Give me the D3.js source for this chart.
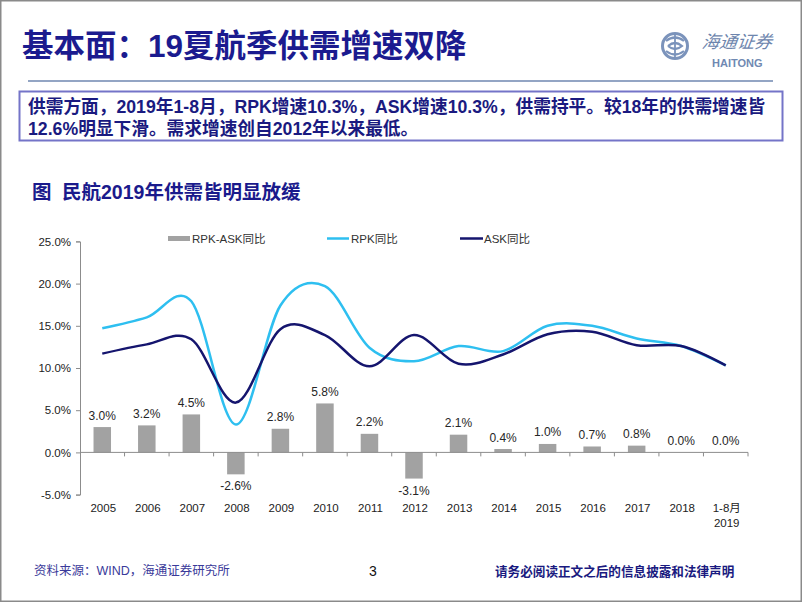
<!DOCTYPE html>
<html><head><meta charset="utf-8">
<script src="https://cdn.jsdelivr.net/npm/d3@7/dist/d3.min.js"></script>
<style>
html,body{margin:0;padding:0;background:#fff;}
svg{display:block;font-family:"Liberation Sans","Noto Sans CJK SC",sans-serif;}
</style></head>
<body>
<svg id="c" width="802" height="602"></svg>
<script>
const categories = ["2005","2006","2007","2008","2009","2010","2011","2012","2013","2014","2015","2016","2017","2018","1-8月|2019"];
const rpkYoY  = [14.7, 16.0, 17.9, 3.3, 17.4, 19.7, 12.4, 10.8, 12.6, 12.0, 15.0, 15.0, 13.5, 12.6, 10.3];
const askYoY  = [11.7, 12.8, 13.4, 5.9, 14.6, 13.9, 10.2, 13.9, 10.5, 11.6, 14.0, 14.3, 12.7, 12.6, 10.3];
const diffYoY = [3.0, 3.2, 4.5, -2.6, 2.8, 5.8, 2.2, -3.1, 2.1, 0.4, 1.0, 0.7, 0.8, 0.0, 0.0];
const yTicks = [-5, 0, 5, 10, 15, 20, 25];
const seriesNames = ["RPK-ASK同比", "RPK同比", "ASK同比"];

const svg = d3.select("#c");
const NAVY = "#1b1b8f";

// page border
svg.append("rect").attr("x",0.75).attr("y",0.75).attr("width",800.5).attr("height",600.5)
  .attr("fill","none").attr("stroke","#8a8a8a").attr("stroke-width",1.5);

// title
svg.append("text").attr("x",22).attr("y",57).attr("font-size",31.5).attr("font-weight","bold")
  .attr("fill",NAVY).text("基本面：19夏航季供需增速双降");
svg.append("line").attr("x1",28).attr("x2",773).attr("y1",81).attr("y2",81)
  .attr("stroke","#6f87b0").attr("stroke-width",1.5);

// logo
const logo = svg.append("g");
logo.append("circle").attr("cx",675).attr("cy",46).attr("r",12.5).attr("fill","none")
  .attr("stroke","#7b93bb").attr("stroke-width",3);
logo.append("path").attr("d","M666,41 q9,-7 18,0 M666,51 q9,7 18,0 M668,46 q7,-6 14,0 q-7,6 -14,0")
  .attr("fill","none").attr("stroke","#7b93bb").attr("stroke-width",2.2);
logo.append("line").attr("x1",675).attr("x2",675).attr("y1",34).attr("y2",58).attr("stroke","#7b93bb").attr("stroke-width",1.8);
logo.append("text").attr("x",702).attr("y",48).attr("font-size",17.5).attr("fill","#6d85ad")
  .attr("font-style","italic").attr("transform","skewX(-8) translate(6,0)").text("海通证券");
logo.append("text").attr("x",712).attr("y",67).attr("font-size",11).attr("font-weight","bold")
  .attr("fill","#7089b2").text("HAITONG");

// text box
svg.append("rect").attr("x",19.5).attr("y",91.5).attr("width",763).attr("height",49)
  .attr("fill","#fff").attr("stroke","#7474c8").attr("stroke-width",2);
svg.append("text").attr("x",28).attr("y",113).attr("font-size",17.7).attr("font-weight","bold")
  .attr("fill","#1a1a80").text("供需方面，2019年1-8月，RPK增速10.3%，ASK增速10.3%，供需持平。较18年的供需增速皆");
svg.append("text").attr("x",28).attr("y",134.5).attr("font-size",17.7).attr("font-weight","bold")
  .attr("fill","#1a1a80").text("12.6%明显下滑。需求增速创自2012年以来最低。");

// chart title
svg.append("text").attr("x",32).attr("y",199).attr("font-size",19.5).attr("font-weight","bold")
  .attr("fill","#1a1a8c").text("图");
svg.append("text").attr("x",62).attr("y",199).attr("font-size",19.5).attr("font-weight","bold")
  .attr("fill","#1a1a8c").text("民航2019年供需皆明显放缓");

// scales
const x = d3.scaleBand().domain(categories).range([80,748]).paddingInner(0).paddingOuter(0);
const y = d3.scaleLinear().domain([-5,25]).range([494.6,241.4]);
const barW = 17.5;
const cx = c => x(c) + x.bandwidth()/2;

// y axis
const yAxis = svg.append("g").attr("transform","translate(80,0)")
  .call(d3.axisLeft(y).tickValues(yTicks).tickSize(4).tickFormat(d => d.toFixed(1)+"%"));
yAxis.select(".domain").attr("stroke","#8c8c8c");
yAxis.selectAll(".tick line").attr("stroke","#8c8c8c");
yAxis.selectAll(".tick text").attr("font-size",11.5).attr("fill","#222")
  .attr("font-family","Liberation Sans, sans-serif").attr("x",-9);

// bars
svg.append("g").selectAll("rect").data(diffYoY).join("rect")
  .attr("x",(d,i)=>cx(categories[i])-barW/2)
  .attr("y",d=>y(Math.max(0,d)))
  .attr("width",barW)
  .attr("height",d=>Math.abs(y(d)-y(0)))
  .attr("fill","#a2a2a2");

// x axis
const xAxis = svg.append("g").attr("transform",`translate(0,${y(0)})`);
xAxis.append("line").attr("x1",80).attr("x2",748).attr("y1",0).attr("y2",0).attr("stroke","#8c8c8c");
const bounds = categories.map(c=>x(c)).concat([748]);
xAxis.selectAll("line.tk").data(bounds.slice(1)).join("line").attr("class","tk")
  .attr("x1",d=>d).attr("x2",d=>d).attr("y1",0).attr("y2",4).attr("stroke","#8c8c8c");

// x labels
const xl = svg.append("g").selectAll("text").data(categories).join("text")
  .attr("x",c=>cx(c)+1).attr("y",512).attr("text-anchor","middle")
  .attr("font-size",11.5).attr("fill","#222");
xl.each(function(c){
  const parts = c.split("|");
  const t = d3.select(this);
  parts.forEach((p,j)=>{
    t.append("tspan").attr("x",cx(c)+1).attr("dy", j===0?0:14.5).text(p);
  });
});

// bar labels
svg.append("g").selectAll("text").data(diffYoY).join("text")
  .attr("x",(d,i)=>cx(categories[i])).attr("text-anchor","middle")
  .attr("y",d=> d>=0 ? y(d)-7.5 : y(d)+16)
  .attr("font-size",12).attr("fill","#262626")
  .text(d=>d.toFixed(1)+"%");

// lines
const line = d3.line().x((d,i)=>cx(categories[i])).y(d=>y(d)).curve(d3.curveCardinal.tension(0));
svg.append("path").datum(rpkYoY).attr("d",line).attr("fill","none")
  .attr("stroke","#2ebff0").attr("stroke-width",2.5);
svg.append("path").datum(askYoY).attr("d",line).attr("fill","none")
  .attr("stroke","#15156e").attr("stroke-width",2.5);

// legend
const lg = svg.append("g");
lg.append("rect").attr("x",168).attr("y",236).attr("width",22).attr("height",5).attr("fill","#a2a2a2");
lg.append("text").attr("x",192).attr("y",242.5).attr("font-size",11.5).attr("fill","#333").text(seriesNames[0]);
lg.append("line").attr("x1",327).attr("x2",349).attr("y1",238.5).attr("y2",238.5).attr("stroke","#2ebff0").attr("stroke-width",2.5);
lg.append("text").attr("x",351).attr("y",242.5).attr("font-size",11.5).attr("fill","#333").text(seriesNames[1]);
lg.append("line").attr("x1",460).attr("x2",483).attr("y1",238.5).attr("y2",238.5).attr("stroke","#15156e").attr("stroke-width",2.5);
lg.append("text").attr("x",484).attr("y",242.5).attr("font-size",11.5).attr("fill","#333").text(seriesNames[2]);

// footer
svg.append("text").attr("x",34).attr("y",575).attr("font-size",12.5).attr("fill","#3a3a9a")
  .text("资料来源：WIND，海通证券研究所");
svg.append("text").attr("x",373).attr("y",576).attr("text-anchor","middle").attr("font-size",14).attr("fill","#111").text("3");
svg.append("text").attr("x",495).attr("y",576).attr("font-size",12.6).attr("font-weight","bold")
  .attr("fill","#1a1a80").text("请务必阅读正文之后的信息披露和法律声明");
</script>
</body></html>
